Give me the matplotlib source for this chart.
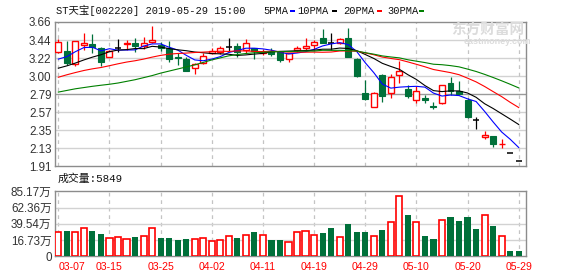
import numpy as np
import matplotlib
matplotlib.use("Agg")
import matplotlib.pyplot as plt
from matplotlib.patches import Rectangle

# daily bars, 2019-03-07 .. 2019-05-29
opens = [3.30, 3.31, 3.15, 3.38, 3.39, 3.34, 3.23, 3.34, 3.39, 3.41,
         3.37, 3.42, 3.38, 3.35, 3.24, 3.21, 3.10, 3.16, 3.28, 3.30,
         3.36, 3.37, 3.32, 3.34, 3.28, 3.31, 3.30, 3.21, 3.32, 3.34,
         3.38, 3.46, 3.40, 3.41, 3.46, 3.21, 2.80, 2.63, 3.02, 2.80,
         3.02, 2.85, 2.71, 2.74, 2.64, 2.68, 2.92, 2.82, 2.72, 2.47,
         2.26, 2.28, 2.178, 2.07, 1.97]
closes = [3.42, 3.16, 3.43, 3.40, 3.36, 3.18, 3.31, 3.34, 3.41, 3.37,
          3.41, 3.44, 3.34, 3.21, 3.22, 3.07, 3.15, 3.25, 3.31, 3.34,
          3.36, 3.30, 3.40, 3.31, 3.30, 3.27, 3.20, 3.28, 3.35, 3.37,
          3.42, 3.41, 3.40, 3.45, 3.24, 3.01, 2.73, 2.80, 2.76, 2.99,
          3.07, 2.76, 2.82, 2.71, 2.63, 2.89, 2.82, 2.79, 2.51, 2.47,
          2.29, 2.18, 2.182, 2.07, 1.97]
highs = [3.45, 3.43, 3.43, 3.53, 3.51, 3.36, 3.32, 3.45, 3.44, 3.47,
         3.48, 3.61, 3.42, 3.43, 3.28, 3.23, 3.16, 3.28, 3.34, 3.37,
         3.47, 3.40, 3.45, 3.35, 3.33, 3.35, 3.30, 3.29, 3.37, 3.47,
         3.44, 3.57, 3.53, 3.46, 3.59, 3.22, 2.96, 2.81, 3.03, 3.03,
         3.19, 2.90, 2.88, 2.77, 2.69, 2.90, 2.99, 2.95, 2.74, 2.51,
         2.34, 2.28, 2.24, 2.07, 1.97]
lows = [3.28, 3.14, 3.13, 3.32, 3.28, 3.13, 3.23, 3.30, 3.32, 3.30,
        3.33, 3.41, 3.31, 3.18, 3.14, 3.06, 3.03, 3.15, 3.27, 3.27,
        3.31, 3.23, 3.28, 3.21, 3.26, 3.25, 3.18, 3.17, 3.30, 3.32,
        3.32, 3.40, 3.32, 3.39, 3.23, 2.99, 2.72, 2.63, 2.69, 2.74,
        2.92, 2.74, 2.68, 2.68, 2.60, 2.66, 2.78, 2.77, 2.50, 2.36,
        2.24, 2.14, 2.13, 2.07, 1.97]
# volume in 万
volumes = [31.4, 33.1, 31.4, 36.7, 33.1, 29.6, 23.6, 24.9, 22.3, 25.3,
           26.6, 36.7, 24.0, 24.0, 21.3, 22.7, 22.3, 23.6, 19.6, 21.0,
           26.2, 24.0, 27.5, 31.8, 27.5, 21.3, 21.3, 18.7, 31.4, 33.1,
           27.5, 30.5, 37.1, 24.9, 42.3, 31.8, 31.8, 26.2, 34.4, 44.5,
           79.0, 54.1, 44.5, 26.6, 22.7, 47.2, 51.5, 46.2, 51.5, 35.8,
           54.1, 39.7, 26.2, 6.9, 6.9]

ma5 = [3.21, 3.24, 3.30, 3.35, 3.354, 3.31, 3.336, 3.318, 3.32, 3.322,
       3.368, 3.394, 3.394, 3.354, 3.32, 3.256, 3.20, 3.19, 3.21, 3.24,
       3.29, 3.315, 3.342, 3.342, 3.334, 3.318, 3.294, 3.272, 3.284, 3.30,
       3.328, 3.37, 3.394, 3.41, 3.386, 3.302, 3.166, 3.046, 2.908, 2.858,
       2.87, 2.876, 2.88, 2.87, 2.798, 2.762, 2.774, 2.768, 2.728, 2.696,
       2.576, 2.448, 2.326, 2.238, 2.138]
ma10 = [3.10, 3.128, 3.162, 3.20, 3.234, 3.263, 3.30, 3.32, 3.325, 3.338,
        3.337, 3.365, 3.356, 3.337, 3.323, 3.312, 3.296, 3.287, 3.277, 3.274,
        3.269, 3.255, 3.261, 3.271, 3.279, 3.299, 3.304, 3.307, 3.311, 3.314,
        3.319, 3.33, 3.33, 3.344, 3.339, 3.313, 3.266, 3.218, 3.159, 3.121,
        3.086, 3.021, 2.963, 2.889, 2.828, 2.816, 2.825, 2.824, 2.799, 2.747,
        2.669, 2.611, 2.547, 2.483, 2.417]
ma20 = [2.99, 3.02, 3.047, 3.072, 3.092, 3.108, 3.13, 3.153, 3.174, 3.19,
        3.21, 3.234, 3.255, 3.27, 3.278, 3.283, 3.29, 3.295, 3.30, 3.306,
        3.303, 3.31, 3.309, 3.304, 3.301, 3.306, 3.30, 3.297, 3.294, 3.294,
        3.295, 3.293, 3.296, 3.308, 3.309, 3.306, 3.285, 3.263, 3.235, 3.218,
        3.203, 3.176, 3.147, 3.117, 3.084, 3.065, 3.046, 3.021, 2.979, 2.934,
        2.878, 2.816, 2.755, 2.686, 2.623]
ma30 = [2.81, 2.83, 2.85, 2.865, 2.88, 2.893, 2.905, 2.92, 2.94, 2.96,
        2.985, 3.01, 3.04, 3.065, 3.09, 3.115, 3.14, 3.17, 3.20, 3.225,
        3.25, 3.265, 3.278, 3.287, 3.293, 3.298, 3.30, 3.302, 3.305, 3.308,
        3.308, 3.317, 3.316, 3.317, 3.313, 3.308, 3.288, 3.27, 3.249, 3.236,
        3.225, 3.202, 3.185, 3.168, 3.148, 3.142, 3.131, 3.116, 3.089, 3.06,
        3.025, 2.987, 2.947, 2.905, 2.861]

date_idx = [0, 6, 12, 18, 24, 30, 36, 42, 48, 54]
date_labels = ["03-07", "03-15", "03-25", "04-02", "04-11",
               "04-19", "04-29", "05-10", "05-20", "05-29"]
price_labels = ["1.91", "2.13", "2.35", "2.57", "2.79",
                "3.00", "3.22", "3.44", "3.66"]
vol_labels = ["0", "16.73万", "39.54万", "62.36万", "85.17万"]

RED = "#ff0000"
GREEN = "#00703a"
FRAME = "#8c8c8c"
GRID = "#d2d2d2"
SANS = ["Liberation Sans", "Noto Sans CJK SC"]
MONO = ["Liberation Mono", "Noto Sans CJK SC"]

W, H = 578, 276
fig = plt.figure(figsize=(W / 100, H / 100), dpi=100)
ax = fig.add_axes([55 / W, 1 - 166.3 / H, 470.7 / W, 144.3 / H])
axv = fig.add_axes([55 / W, 1 - 256.3 / H, 470.7 / W, 65 / H])

x = np.arange(len(closes))
xlim = (-0.39, 54.82)
bw = 0.7

# ---- price panel ----
pmin, pmax = 1.91, 3.66
ptick = np.linspace(pmin, pmax, len(price_labels))
for k, v in enumerate(ptick[1:-1], start=1):
    ax.axhline(v, color=("#9a9a9a" if k == 4 else GRID), lw=1, zorder=0)
for d in date_idx:
    for a in (ax, axv):
        a.axvline(d, color="#c4c4c4", lw=0.9, ls=(0, (3, 3)), zorder=0)

for i in x:
    o, c, h, l = opens[i], closes[i], highs[i], lows[i]
    if h == l:
        ax.hlines(c, i - bw / 2, i + bw / 2, color="black", lw=1.1, zorder=3)
    elif o == c:
        ax.vlines(i, l, h, color="black", lw=0.9, zorder=3)
        ax.hlines(c, i - bw / 2, i + bw / 2, color="black", lw=1.1, zorder=3)
    elif c > o:
        ax.vlines(i, c, h, color=RED, lw=0.9, zorder=3)
        ax.vlines(i, l, o, color=RED, lw=0.9, zorder=3)
        ax.add_patch(Rectangle((i - bw / 2, o), bw, c - o, facecolor="white",
                               edgecolor=RED, lw=1.0, zorder=3))
    else:
        ax.vlines(i, l, h, color=GREEN, lw=0.9, zorder=3)
        ax.add_patch(Rectangle((i - bw / 2, c), bw, o - c, facecolor=GREEN,
                               edgecolor=GREEN, lw=0.8, zorder=3))

ax.plot(x, ma5, color="#0000ff", lw=0.8, zorder=4)
ax.plot(x, ma10, color="black", lw=0.8, zorder=4)
ax.plot(x, ma20, color="#ff0000", lw=0.8, zorder=4)
ax.plot(x, ma30, color="#008000", lw=0.8, zorder=4)

ax.set_xlim(*xlim)
ax.set_ylim(pmin, pmax)
ax.set_xticks([])
ax.set_yticks(ptick, price_labels)
ax.tick_params(axis="y", length=0, pad=2.5, labelsize=8.4, labelcolor="#333333")
for t in ax.get_yticklabels():
    t.set_family(SANS)

# ---- volume panel ----
vmax = 85.17
vtick = np.linspace(0, vmax, len(vol_labels))
for v in vtick[1:-1]:
    axv.axhline(v, color=GRID, lw=1, zorder=0)
for i in x:
    o, c = opens[i], closes[i]
    up = c > o or (c == o and i > 0 and c >= closes[i - 1])
    if up:
        axv.bar(i, volumes[i], width=0.72, facecolor="white", edgecolor=RED,
                lw=1.2, zorder=3)
    else:
        axv.bar(i, volumes[i], width=0.72, color=GREEN, lw=0, zorder=3)

axv.set_xlim(*xlim)
axv.set_ylim(0, vmax)
axv.set_yticks(vtick, vol_labels)
axv.tick_params(axis="y", length=0, pad=2.5, labelsize=8.4, labelcolor="#333333")
axv.set_xticks(date_idx, date_labels)
axv.tick_params(axis="x", length=0, pad=4, labelsize=7.6, labelcolor=RED)
for t in axv.get_yticklabels() + axv.get_xticklabels():
    t.set_family(SANS)
axv.get_xticklabels()[0].set_ha("left")

for a in (ax, axv):
    for s in a.spines.values():
        s.set_color(FRAME)
        s.set_linewidth(1.0)

# ---- header / legend ----
hy = 1 - 10.5 / H
fig.text(56 / W, hy, "ST天宝[002220] 2019-05-29 15:00", family=MONO,
         fontsize=7.5, va="center", color="#111111")
legend = [("5PMA", 263, "#0000ff", 290), ("10PMA", 297, "black", 332),
          ("20PMA", 343, "#ff0000", 377), ("30PMA", 387, "#008000", 419)]
for name, tx, col, dx in legend:
    fig.text(tx / W, hy, name, family=MONO, fontsize=7.5, va="center",
             color="#111111")
    fig.add_artist(Rectangle((dx / W, 1 - 12 / H), 5 / W, 2 / H,
                             transform=fig.transFigure, color=col, lw=0))

fig.text(58 / W, 1 - 178.5 / H, "成交量:5849", family=MONO, fontsize=7.8,
         va="center", color="#111111")

# watermark
fig.text(488 / W, 1 - 30 / H, "东方财富网", family=["Noto Sans CJK SC"],
         fontsize=10.5, weight="bold", ha="center", va="center", color="#dcdcdc")
fig.text(497 / W, 1 - 41.5 / H, "eastmoney.com", family=SANS, fontsize=6.5,
         weight="bold", ha="center", va="center", color="#dcdcdc")

fig.savefig("out.png", dpi=100)
